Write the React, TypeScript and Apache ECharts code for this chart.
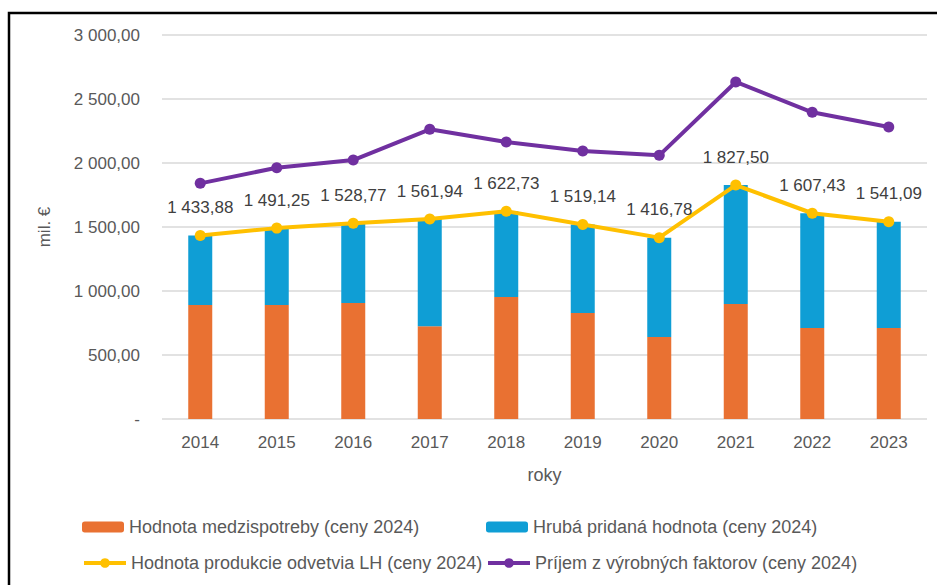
import React, { useEffect, useRef } from "react";
import * as echarts from "echarts";

const years = ["2014", "2015", "2016", "2017", "2018", "2019", "2020", "2021", "2022", "2023"];
const medzispotreba = [890, 890, 906, 724, 953, 828, 641, 898, 711, 711];
const pridanaHodnota = [543.88, 601.25, 622.77, 837.94, 669.73, 691.14, 775.78, 929.5, 896.43, 830.09];
const produkcia = [1433.88, 1491.25, 1528.77, 1561.94, 1622.73, 1519.14, 1416.78, 1827.5, 1607.43, 1541.09];
const prijem = [1841, 1963, 2023, 2263, 2164, 2094, 2060, 2633, 2396, 2281];

const names = [
  "Hodnota medzispotreby (ceny 2024)",
  "Hrubá pridaná hodnota (ceny 2024)",
  "Hodnota produkcie odvetvia LH (ceny 2024)",
  "Príjem z výrobných faktorov (ceny 2024)",
];

const FONT = "Liberation Sans, Arial, sans-serif";

function fmt(v: number): string {
  if (v === 0) return "-";
  const [i, d] = v.toFixed(2).split(".");
  const withSp = i.replace(/\B(?=(\d{3})+(?!\d))/g, " ");
  return withSp + "," + d;
}

export default function App() {
  const ref = useRef<HTMLDivElement>(null);
  useEffect(() => {
    if (!ref.current) return;
    const chart = echarts.init(ref.current, undefined, { renderer: "svg" });
    const legendText = { color: "#595959", fontSize: 18, fontFamily: FONT };
    const mkLegend = (name: string, left: number, top: number, line: boolean) => ({
      data: [name],
      left,
      top,
      padding: 0,
      itemWidth: 42,
      itemHeight: line ? 12 : 11,
      itemGap: 5,
      textStyle: legendText,
      selectedMode: false,
      ...(line ? { lineStyle: { width: 4 }, itemStyle: { borderWidth: 0 } } : {}),
    });
    chart.setOption({
      animation: false,
      backgroundColor: "#ffffff",
      textStyle: { fontFamily: FONT },
      graphic: [
        {
          type: "rect",
          shape: { x: 9, y: 13, width: 1200, height: 1200 },
          style: { fill: "none", stroke: "#000000", lineWidth: 2.5 },
          silent: true,
        },
      ],
      legend: [
        mkLegend(names[0], 82, 518, false),
        mkLegend(names[1], 486, 518, false),
        mkLegend(names[2], 82, 554, true),
        mkLegend(names[3], 486, 554, true),
      ],
      grid: { left: 162, right: 10, top: 35, bottom: 166 },
      xAxis: {
        type: "category",
        data: years,
        axisLine: { show: false },
        axisTick: { show: false },
        axisLabel: { color: "#595959", fontSize: 17, fontFamily: FONT, margin: 15 },
        name: "roky",
        nameLocation: "middle",
        nameGap: 47,
        nameTextStyle: { color: "#595959", fontSize: 18, fontFamily: FONT },
      },
      yAxis: {
        type: "value",
        min: 0,
        max: 3000,
        interval: 500,
        axisLine: { show: false },
        axisTick: { show: false },
        axisLabel: { color: "#595959", fontSize: 17, fontFamily: FONT, margin: 22, formatter: (v: number) => fmt(v) },
        splitLine: { lineStyle: { color: "#D9D9D9", width: 1.5 } },
        name: "mil. €",
        nameLocation: "middle",
        nameGap: 109,
        nameTextStyle: { color: "#595959", fontSize: 17, fontFamily: FONT },
      },
      series: [
        {
          name: names[0],
          type: "bar",
          stack: "a",
          barWidth: 24,
          data: medzispotreba,
          itemStyle: { color: "#E97132" },
        },
        {
          name: names[1],
          type: "bar",
          stack: "a",
          barWidth: 24,
          data: pridanaHodnota,
          itemStyle: { color: "#0F9ED5" },
        },
        {
          name: names[2],
          type: "line",
          data: produkcia,
          symbol: "circle",
          symbolSize: 11,
          lineStyle: { color: "#FFC000", width: 4 },
          itemStyle: { color: "#FFC000" },
          z: 3,
          label: {
            show: true,
            position: "top",
            distance: 14,
            color: "#404040",
            fontSize: 17,
            fontFamily: FONT,
            formatter: (p: any) => fmt(p.value),
          },
        },
        {
          name: names[3],
          type: "line",
          data: prijem,
          symbol: "circle",
          symbolSize: 11,
          lineStyle: { color: "#7030A0", width: 4 },
          itemStyle: { color: "#7030A0" },
          z: 4,
        },
      ],
    });
    return () => chart.dispose();
  }, []);
  return (
    <div
      ref={ref}
      style={{ position: "fixed", left: 0, top: 0, width: 937, height: 585 }}
    />
  );
}
